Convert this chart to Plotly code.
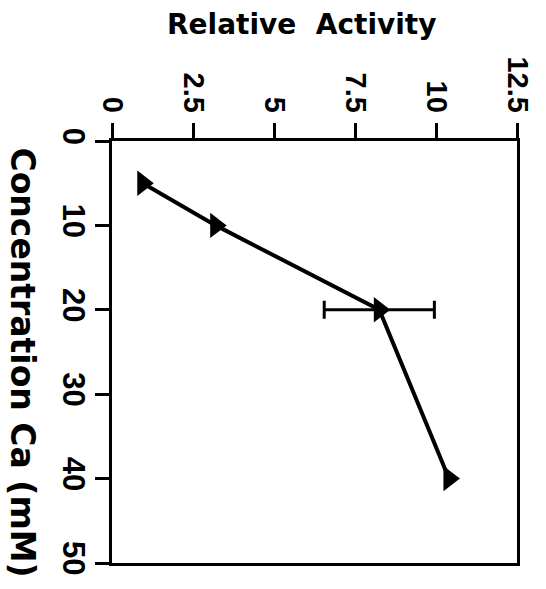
import plotly.graph_objects as go

# Calcium concentration (mM) and measured relative activity
concentration = [5, 10, 20, 40]
activity = [0.95, 3.2, 8.25, 10.4]

# Error on the 20 mM measurement
err_conc = [20]
err_act = [8.25]
err_size = [1.7]

act_ticks = [0, 2.5, 5, 7.5, 10, 12.5]
act_labels = ["0", "2.5", "5", "7.5", "10", "12.5"]
conc_ticks = [0, 10, 20, 30, 40, 50]

TICK_FONT = "Liberation Sans, Arial, Helvetica, sans-serif"
TITLE_FONT = "DejaVu Sans, Liberation Sans, sans-serif"

fig = go.Figure()

fig.add_trace(go.Scatter(
    x=err_act, y=err_conc, mode="markers",
    marker=dict(size=1, opacity=0),
    error_x=dict(type="data", array=err_size, visible=True,
                 color="black", thickness=3, width=9),
    showlegend=False, hoverinfo="skip",
))

fig.add_trace(go.Scatter(
    x=activity, y=concentration, mode="lines+markers",
    line=dict(color="black", width=4),
    marker=dict(symbol="triangle-right", size=22, color="black"),
    showlegend=False,
))

fig.update_xaxes(
    side="top", range=[0, 12.5],
    tickmode="array", tickvals=act_ticks, ticktext=act_labels,
    tickangle=90, ticks="outside", ticklen=15, tickwidth=3, tickcolor="black",
    showline=True, linewidth=3, linecolor="black", mirror=True,
    showgrid=False, zeroline=False,
    tickfont=dict(family=TICK_FONT, size=29, color="black", weight=700),
)
fig.update_yaxes(
    range=[50, 0],
    tickmode="array", tickvals=conc_ticks,
    tickangle=90, ticks="outside", ticklen=14, tickwidth=3, tickcolor="black",
    ticklabelstandoff=-5,
    showline=True, linewidth=3, linecolor="black", mirror=True,
    showgrid=False, zeroline=False,
    tickfont=dict(family=TICK_FONT, size=31, color="black", weight=700),
)

fig.add_annotation(
    text="Relative\u00a0\u00a0Activity", xref="paper", yref="paper",
    x=0.469, y=1.276, xanchor="center", yanchor="middle", showarrow=False,
    font=dict(family=TITLE_FONT, size=28, color="black", weight=700),
)
fig.add_annotation(
    text="Concentration Ca (mM)", xref="paper", yref="paper",
    x=-0.222, y=0.475, xanchor="center", yanchor="middle",
    showarrow=False, textangle=90,
    font=dict(family=TITLE_FONT, size=33, color="black", weight=700),
)

fig.update_layout(
    width=546, height=589,
    margin=dict(l=112, r=27, t=141, b=26),
    paper_bgcolor="white", plot_bgcolor="white",
)

fig.write_html("out.html")
